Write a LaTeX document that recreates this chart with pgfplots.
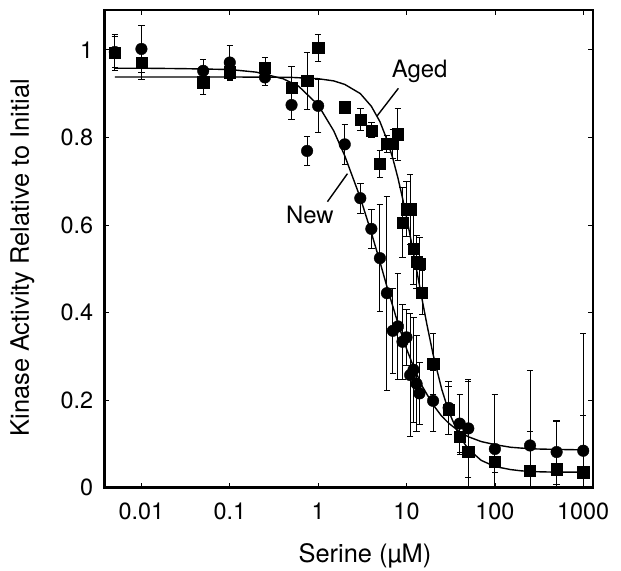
\documentclass[border=0pt]{standalone}
\usepackage{fontspec}
\setmainfont{TeX Gyre Heros}
\usepackage{pgfplots}
\pgfplotsset{compat=1.18}
\usepackage{pgfplotstable}

\pgfplotstableread{
x y e
0.005 0.995 0.035
0.01 1.002 0.053
0.05 0.952 0.027
0.1 0.971 0.039
0.25 0.937 0.019
0.5 0.874 0.032
0.75 0.769 0.034
1 0.872 0.061
2 0.784 0.046
3 0.661 0.034
4 0.591 0.045
5 0.524 0.122
6 0.444 0.222
7 0.358 0.097
8 0.368 0.122
9 0.333 0.085
10 0.343 0.064
11 0.257 0.14
12 0.269 0.12
13 0.237 0.11
14 0.215 0.07
20 0.198 0.07
30 0.182 0.061
40 0.146 0.066
50 0.135 0.112
100 0.088 0.125
250 0.096 0.171
500 0.081 0.073
1000 0.084 0.268
}\newdata

\pgfplotstableread{
x y e
0.005 0.994 0.042
0.01 0.970 0.037
0.05 0.926 0.027
0.1 0.949 0.018
0.25 0.960 0.022
0.5 0.914 0.048
0.75 0.929 0.066
1 1.004 0.031
2 0.869 0.012
3 0.840 0.025
4 0.816 0.017
5 0.739 0.030
6 0.785 0.020
7 0.785 0.033
8 0.807 0.060
9 0.605 0.08
10 0.636 0.063
11 0.636 0.08
12 0.545 0.08
13 0.515 0.06
14 0.512 0.06
15 0.445 0.05
20 0.282 0.07
30 0.177 0.055
40 0.116 0.04
50 0.082 0.16
100 0.059 0.025
250 0.038 0.09
500 0.042 0.11
1000 0.035 0.13
}\ageddata

\pgfplotstableread{
x y
0.005 0.958
0.01 0.958
0.03 0.957
0.1 0.955
0.2 0.949
0.4 0.934
0.6 0.917
1 0.874
1.5 0.815
2 0.758
3 0.662
4 0.582
5 0.516
6 0.459
8 0.375
10 0.317
12 0.276
15 0.232
20 0.189
25 0.163
30 0.147
40 0.127
50 0.116
70 0.105
100 0.098
150 0.092
200 0.090
300 0.088
500 0.087
1000 0.086
}\newfit

\pgfplotstableread{
x y
0.005 0.938
0.1 0.938
0.5 0.937
1 0.934
1.5 0.929
2 0.921
3 0.900
4 0.871
5 0.836
6 0.795
7 0.752
8 0.707
9 0.662
10 0.618
11 0.575
12 0.535
13.3 0.487
15 0.430
17 0.373
20 0.304
25 0.225
30 0.174
40 0.116
50 0.088
70 0.062
100 0.048
150 0.041
200 0.038
300 0.036
500 0.035
1000 0.035
}\agedfit

\begin{document}
\begin{tikzpicture}
\begin{axis}[
  scale only axis, width=488.7bp, height=477.5bp,
  xmode=log, xmin=0.0038, xmax=1290, ymin=0, ymax=1.091,
  xtick={0.01,0.1,1,10,100,1000}, xticklabels={0.01,0.1,1,10,100,1000},
  ytick={0,0.2,0.4,0.6,0.8,1}, yticklabels={0,0.2,0.4,0.6,0.8,1},
  xminorticks=false, yminorticks=false,
  tick align=inside, major tick length=5bp,
  every tick/.style={black, line width=0.7bp},
  axis line style={line width=2.5bp},
  tick label style={font=\fontsize{23.5}{27}\selectfont},
  xticklabel style={inner sep=0pt, anchor=north, yshift=-15.5bp},
  yticklabel style={inner sep=0pt, anchor=east, xshift=-11bp},
  xlabel={Serine (µM)}, ylabel={Kinase Activity Relative to Initial},
  label style={font=\fontsize{25.5}{30}\selectfont},
  xlabel style={at={(axis description cs:0.5335,-0.1581)}, anchor=base},
  ylabel style={at={(axis description cs:-0.1541,0.481)}, anchor=base},
]
\addplot[black, line width=1.4bp, no marks] table[x=x,y=y] {\newfit};
\addplot[black, line width=1.4bp, no marks] table[x=x,y=y] {\agedfit};
\addplot[only marks, mark=*, mark size=5.8bp, black,
  error bars/.cd, y dir=both, y explicit,
  error bar style={line width=0.9bp, black},
  error mark options={rotate=90, mark size=3.2bp, line width=0.9bp, black}]
  table[x=x, y=y, y error=e] {\newdata};
\addplot[only marks, mark=square*, mark size=5.6bp, black,
  error bars/.cd, y dir=both, y explicit,
  error bar style={line width=0.9bp, black},
  error mark options={rotate=90, mark size=3.2bp, line width=0.9bp, black}]
  table[x=x, y=y, y error=e] {\ageddata};
\node[font=\fontsize{24}{28}\selectfont, inner sep=0pt] at (axis cs:14.06,0.950) {Aged};
\draw[line width=1.4bp] (axis cs:8.09,0.912) -- (axis cs:4.61,0.848);
\node[font=\fontsize{24}{28}\selectfont, inner sep=0pt] at (axis cs:0.805,0.622) {New};
\draw[line width=1.4bp] (axis cs:1.274,0.653) -- (axis cs:2.145,0.717);
\end{axis}
\pgfresetboundingbox
\path[use as bounding box] ([shift={(-104.3bp,-83.5bp)}]current axis.south west) rectangle ([shift={(28bp,10bp)}]current axis.north east);
\end{tikzpicture}
\end{document}
